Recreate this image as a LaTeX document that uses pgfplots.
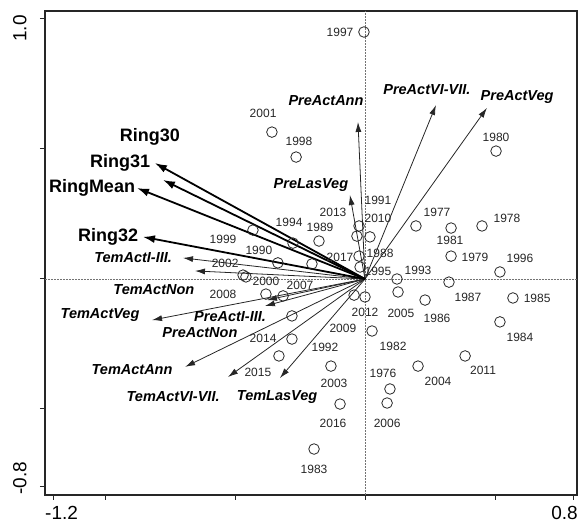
\documentclass[border=0pt]{standalone}
\usepackage{fontspec}
\setmainfont{Liberation Sans}
\usepackage{pgfplots}
\usepackage{pgfplotstable}
\pgfplotsset{compat=1.18}
\usetikzlibrary{arrows.meta}

\pgfplotstableread{
x y
-0.004 0.950
-0.358 0.565
-0.265 0.469
0.504 0.492
0.196 0.204
0.331 0.196
0.450 0.204
0.331 0.088
0.519 0.027
0.123 0.000
0.127 -0.050
0.323 -0.012
0.231 -0.081
0.569 -0.073
0.519 -0.165
0.385 -0.296
0.204 -0.335
0.096 -0.423
0.085 -0.477
-0.096 -0.481
-0.196 -0.654
-0.131 -0.335
0.027 -0.200
-0.042 -0.062
0.000 -0.069
-0.023 0.088
-0.019 0.046
-0.023 0.204
-0.031 0.165
0.019 0.162
-0.177 0.146
-0.277 0.138
-0.431 0.188
-0.335 0.062
-0.204 0.058
-0.469 0.015
-0.458 0.008
-0.381 -0.058
-0.315 -0.065
-0.281 -0.142
-0.281 -0.231
-0.331 -0.296
}\sites

\pgfplotstableread{
x y lab
-0.096 0.950 1997
-0.392 0.638 2001
-0.254 0.531 1998
0.504 0.546 1980
0.050 0.304 1991
-0.123 0.258 2013
0.050 0.235 2010
0.277 0.258 1977
0.546 0.235 1978
0.327 0.150 1981
-0.292 0.219 1994
-0.173 0.200 1989
-0.546 0.154 1999
-0.408 0.112 1990
-0.096 0.085 2017
0.058 0.100 1988
0.050 0.031 1995
0.204 0.035 1993
0.423 0.085 1979
0.596 0.081 1996
-0.538 0.062 2002
-0.381 -0.008 2000
-0.250 -0.023 2007
-0.546 -0.058 2008
0.396 -0.069 1987
0.662 -0.073 1985
0.277 -0.150 1986
0.138 -0.131 2005
0.000 -0.127 2012
0.596 -0.223 1984
-0.085 -0.188 2009
0.108 -0.258 1982
-0.154 -0.262 1992
-0.392 -0.227 2014
0.454 -0.350 2011
-0.119 -0.400 2003
0.281 -0.392 2004
0.069 -0.362 1976
-0.412 -0.358 2015
-0.123 -0.554 2016
0.085 -0.554 2006
-0.196 -0.731 1983
}\yearlabels

\pgfplotstableread{
x y u v
0 0 -0.027 0.604
0 0 0.273 0.669
0 0 0.469 0.658
0 0 -0.058 0.323
0 0 -0.700 0.081
0 0 -0.654 0.031
0 0 -0.819 -0.158
0 0 -0.377 -0.081
0 0 -0.385 -0.104
0 0 -0.692 -0.338
0 0 -0.527 -0.377
0 0 -0.327 -0.381
}\envarrows

\pgfplotstableread{
x y u v
0 0 -0.808 0.446
0 0 -0.777 0.381
0 0 -0.877 0.350
0 0 -0.854 0.162
}\ringarrows

\pgfplotstableread{
x y lab
-0.150 0.688 PreActAnn
0.238 0.727 PreActVI-VII.
0.585 0.700 PreActVeg
-0.208 0.362 PreLasVeg
-0.892 0.081 TemActI-III.
-0.812 -0.042 TemActNon
-1.019 -0.138 TemActVeg
-0.519 -0.146 PreActI-III.
-0.635 -0.208 PreActNon
-0.896 -0.350 TemActAnn
-0.738 -0.454 TemActVI-VII.
-0.338 -0.454 TemLasVeg
}\envlabels

\pgfplotstableread{
x y lab
-0.827 0.546 Ring30
-0.942 0.446 Ring31
-1.050 0.350 RingMean
-0.988 0.162 Ring32
}\ringlabels

\begin{document}
\begin{tikzpicture}
\begin{axis}[
  scale only axis,
  width=532pt, height=484pt,
  xmin=-1.2308, xmax=0.8154, ymin=-0.8308, ymax=1.0308,
  axis line style={line width=1.1pt, black!85},
  xtick={-1.2,-1,-0.5,0,0.5,0.8},
  ytick={-0.8,-0.5,0,0.5,1},
  xticklabels={}, yticklabels={},
  tick align=outside, tick pos=left,
  major tick length=5pt,
  tick style={line width=1pt, black!85},
  clip=false,
]
\coordinate (sw) at (rel axis cs:0,0);
\coordinate (nw) at (rel axis cs:0,1);
\coordinate (se) at (rel axis cs:1,0);

\addplot[black!55, densely dotted, line width=0.5pt] coordinates {(0,-0.8308) (0,1.0308)};
\addplot[black!55, densely dotted, line width=0.5pt] coordinates {(-1.2308,0) (0.8154,0)};

\addplot[black!85, line width=0.8pt, -{Latex[length=10pt,width=6pt]},
  quiver={u=\thisrow{u}, v=\thisrow{v}}] table {\envarrows};
\addplot[black, line width=1.8pt, -{Latex[length=12pt,width=8pt]},
  quiver={u=\thisrow{u}, v=\thisrow{v}}] table {\ringarrows};

\addplot[only marks, mark=o, mark size=5.3pt,
  mark options={line width=0.8pt, draw=black!85}] table {\sites};

\addplot[draw=none, nodes near coords, point meta=explicit symbolic,
  every node near coord/.append style={anchor=center, inner sep=0pt,
    text=black!85, font=\fontsize{12}{12}\selectfont}]
  table[meta=lab] {\yearlabels};
\addplot[draw=none, nodes near coords, point meta=explicit symbolic,
  every node near coord/.append style={anchor=center, inner sep=0pt,
    text=black, font=\fontsize{14.5}{14.5}\selectfont\bfseries\itshape}]
  table[meta=lab] {\envlabels};
\addplot[draw=none, nodes near coords, point meta=explicit symbolic,
  every node near coord/.append style={anchor=center, inner sep=0pt,
    text=black, font=\fontsize{18}{18}\selectfont\bfseries}]
  table[meta=lab] {\ringlabels};
\end{axis}
\node[anchor=north west, inner sep=0pt, font=\fontsize{19}{19}\selectfont] at ([yshift=-11pt]sw) {-1.2};
\node[anchor=north east, inner sep=0pt, font=\fontsize{19}{19}\selectfont] at ([xshift=1pt,yshift=-11pt]se) {0.8};
\node[anchor=north east, rotate=90, inner sep=0pt, font=\fontsize{19}{19}\selectfont] at ([xshift=-32pt,yshift=-4pt]nw) {1.0};
\node[anchor=north west, rotate=90, inner sep=0pt, font=\fontsize{19}{19}\selectfont] at ([xshift=-32pt]sw) {-0.8};
\pgfresetboundingbox
\path[use as bounding box] ([shift={(-45pt,-29pt)}]sw) rectangle ([shift={(536pt,495pt)}]sw);
\end{tikzpicture}
\end{document}
